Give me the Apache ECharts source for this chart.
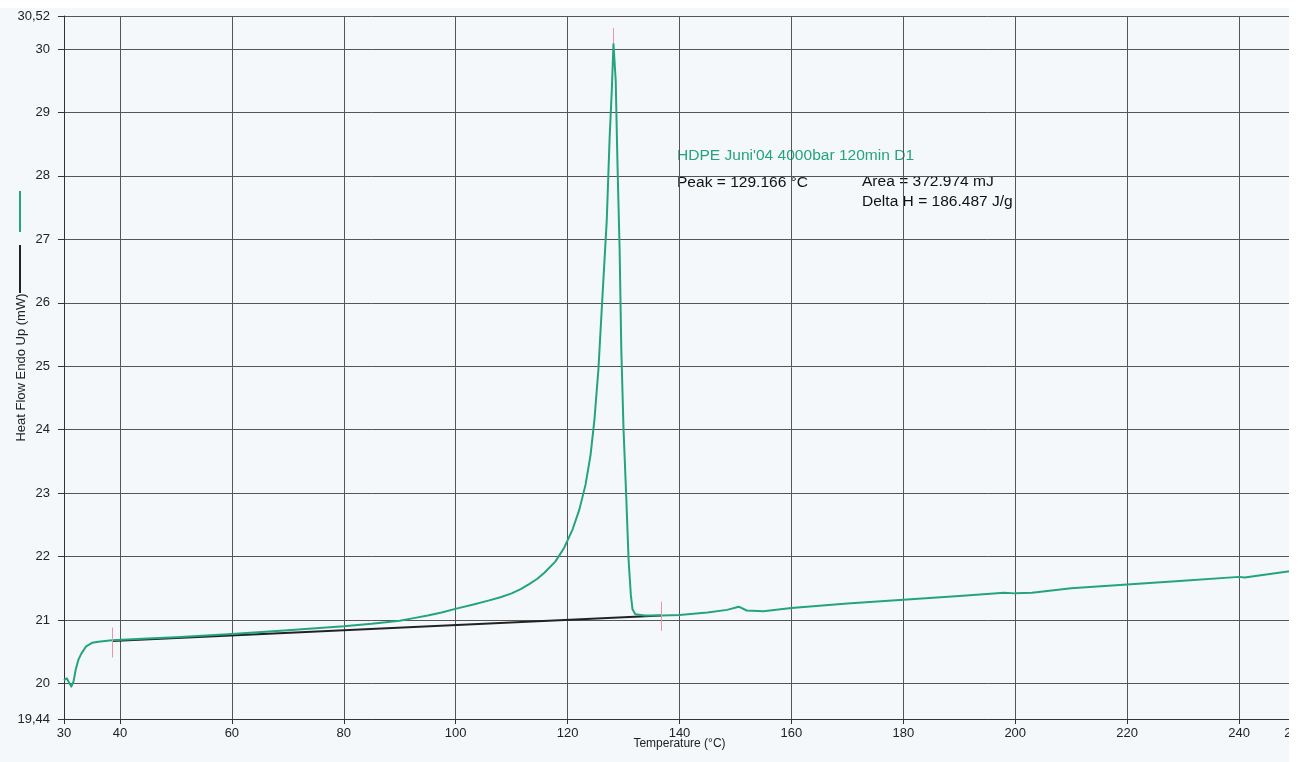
<!DOCTYPE html>
<html>
<head>
<meta charset="utf-8">
<script src="https://cdn.jsdelivr.net/npm/echarts@6/dist/echarts.min.js"></script>
<style>
html,body{margin:0;padding:0;background:#fff;}
#chart{width:1301px;height:762px;}
</style>
</head>
<body>
<div id="chart"></div>
<script>
// ---- data ----
const tempC = [30.0, 30.5, 31.0, 31.3, 31.7, 32.1, 32.6, 33.1, 33.9, 35.0, 36.5, 38.6, 45, 50, 60, 70, 80, 85, 90, 92.5, 95, 97.5, 100.1, 103, 106, 108, 110, 111.7, 113.2, 114.6, 115.9, 117.8, 119.4, 120.9, 122.1, 123.2, 124.1, 124.8, 125.5, 126.2, 127.0, 127.5, 127.9, 128.2, 128.6, 128.9, 129.3, 129.6, 130.0, 130.5, 130.9, 131.3, 131.6, 132.1, 133.8, 136.8, 140, 145, 148.5, 150.6, 152, 155, 160, 170, 180, 190, 198, 200, 203, 210, 220, 230, 240, 241, 250];
const heatFlow = [20.05, 20.08, 20.0, 19.95, 20.03, 20.22, 20.38, 20.47, 20.58, 20.64, 20.66, 20.68, 20.71, 20.73, 20.78, 20.84, 20.9, 20.94, 20.99, 21.03, 21.07, 21.12, 21.18, 21.24, 21.31, 21.36, 21.42, 21.49, 21.57, 21.65, 21.75, 21.92, 22.14, 22.43, 22.74, 23.13, 23.6, 24.16, 24.94, 26.05, 27.3, 28.57, 29.35, 30.08, 29.5, 28.25, 26.83, 25.26, 24.0, 22.9, 21.95, 21.4, 21.17, 21.09, 21.07, 21.07, 21.08, 21.12, 21.16, 21.21, 21.15, 21.14, 21.19, 21.26, 21.32, 21.38, 21.43, 21.42, 21.43, 21.5, 21.56, 21.62, 21.68, 21.67, 21.78];
const baseX = [38.6, 136.8];
const baseY = [20.67, 21.07];
const limitX = [38.6, 136.8];
const limitYLow = [20.41, 20.83];
const limitYHigh = [20.88, 21.29];
const peakX = 128.2;
const peakTick = [30.09, 30.33];
const xTicks = [30, 40, 60, 80, 100, 120, 140, 160, 180, 200, 220, 240, 250];
const yTicks = [19.44, 20, 21, 22, 23, 24, 25, 26, 27, 28, 29, 30, 30.52];
const title = "HDPE Juni'04 4000bar 120min D1";
const peakText = "Peak = 129.166 °C";
const areaText = "Area = 372.974 mJ";
const deltaText = "Delta H = 186.487 J/g";

const green = '#24a47b';
const gridCol = '#555';
const FONT = 'Liberation Sans, Arial, sans-serif';

const curve = tempC.map((t, i) => [t, heatFlow[i]]);
const baseline = baseX.map((t, i) => [t, baseY[i]]);
const limits = limitX.map((t, i) => [{coord: [t, limitYLow[i]]}, {coord: [t, limitYHigh[i]]}]);
limits.push([{coord: [peakX, peakTick[0]]}, {coord: [peakX, peakTick[1]]}]);

const chart = echarts.init(document.getElementById('chart'), null, {renderer: 'canvas'});
chart.setOption({
  animation: false,
  backgroundColor: '#f5f8fa',
  grid: {left: 64, right: 6, top: 16, bottom: 43, containLabel: false, outerBoundsMode: 'none'},
  xAxis: {
    type: 'value', min: 30, max: 250,
    name: 'Temperature (°C)', nameLocation: 'middle', nameGap: 19, nameMoveOverlap: false,
    nameTextStyle: {fontFamily: FONT, fontSize: 12, color: '#222'},
    axisLine: {show: true, onZero: false, lineStyle: {color: '#333', width: 1}},
    axisTick: {show: true, customValues: xTicks, length: 5, lineStyle: {color: '#333'}},
    axisLabel: {customValues: xTicks, margin: 8, fontFamily: FONT, fontSize: 13, color: '#222', showMaxLabel: true, hideOverlap: false},
    splitLine: {show: true, lineStyle: {color: gridCol, width: 1}}
  },
  yAxis: {
    type: 'value', min: 19.44, max: 30.52,
    name: 'Heat Flow Endo Up (mW)', nameLocation: 'middle', nameGap: 36, nameRotate: 90, nameMoveOverlap: false,
    nameTextStyle: {fontFamily: FONT, fontSize: 13, color: '#222'},
    axisLine: {show: true, onZero: false, lineStyle: {color: '#333', width: 1}},
    axisTick: {show: true, customValues: yTicks, length: 6, lineStyle: {color: '#333'}},
    axisLabel: {customValues: yTicks, margin: 14, fontFamily: FONT, fontSize: 13, color: '#222', hideOverlap: false,
      formatter: v => String(v).replace('.', ',')},
    splitLine: {show: true, lineStyle: {color: gridCol, width: 1}}
  },
  series: [
    {
      name: 'baseline', type: 'line', data: baseline, showSymbol: false,
      lineStyle: {color: '#222', width: 2}, z: 3,
      markLine: {
        silent: true, symbol: ['none', 'none'], label: {show: false},
        lineStyle: {color: '#e49aa6', width: 1, type: 'solid'},
        data: limits
      }
    },
    {
      name: 'HDPE', type: 'line', data: curve, showSymbol: false, smooth: false,
      lineStyle: {color: green, width: 2, join: 'round'}, z: 4
    }
  ],
  graphic: [
    {type: 'line', shape: {x1: 20, y1: 191, x2: 20, y2: 232}, style: {stroke: green, lineWidth: 2}},
    {type: 'line', shape: {x1: 20, y1: 245, x2: 20, y2: 293}, style: {stroke: '#222', lineWidth: 2}},
    {type: 'text', x: 677, y: 156, scaleX: 1.11, style: {text: title, fill: green, font: '14px ' + FONT, textVerticalAlign: 'middle'}},
    {type: 'text', x: 677, y: 183, scaleX: 1.11, style: {text: peakText, fill: '#111', font: '14px ' + FONT, textVerticalAlign: 'middle'}},
    {type: 'text', x: 862, y: 182, scaleX: 1.11, style: {text: areaText, fill: '#111', font: '14px ' + FONT, textVerticalAlign: 'middle'}},
    {type: 'text', x: 862, y: 202, scaleX: 1.11, style: {text: deltaText, fill: '#111', font: '14px ' + FONT, textVerticalAlign: 'middle'}},
    {type: 'rect', z: 100, shape: {x: 1289, y: 0, width: 12, height: 762}, style: {fill: '#ffffff'}},
    {type: 'rect', z: 100, shape: {x: 0, y: 0, width: 1301, height: 8}, style: {fill: '#ffffff'}}
  ]
});
</script>
</body>
</html>
